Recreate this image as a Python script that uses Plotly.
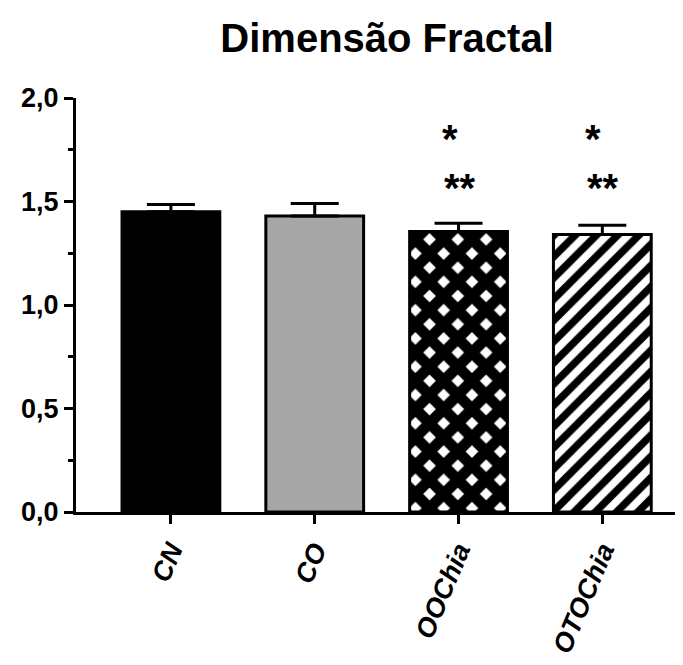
import plotly.graph_objects as go

categories = ["CN", "CO", "OOChia", "OTOChia"]
means = [1.45, 1.43, 1.355, 1.34]
errors = [0.035, 0.06, 0.04, 0.045]
sig_top = ["", "", "*", "*"]
sig_bottom = ["", "", "**", "**"]
sig_top_y = [1.80, 1.80, 1.80, 1.80]
sig_bottom_y = [1.565, 1.565, 1.565, 1.565]

fill_colors = ["black", "#a6a6a6", "white", "white"]
patterns = [
    dict(shape=""),
    dict(shape=""),
    dict(shape="x", fgcolor="black", bgcolor="white", size=20, solidity=0.8, fillmode="replace", fgopacity=1),
    dict(shape="/", fgcolor="black", bgcolor="white", size=15, solidity=0.5, fillmode="replace", fgopacity=1),
]

FONT = "Arial, Liberation Sans"

fig = go.Figure()
for i, c in enumerate(categories):
    fig.add_trace(go.Bar(
        x=[c], y=[means[i]],
        width=0.68,
        marker=dict(color=fill_colors[i], line=dict(color="black", width=3), pattern=patterns[i]),
        error_y=dict(type="data", array=[errors[i]], arrayminus=[0], symmetric=False,
                     color="black", thickness=3, width=24),
        showlegend=False,
    ))

for i, c in enumerate(categories):
    if sig_top[i]:
        fig.add_annotation(x=c, y=sig_top_y[i], text="<b>%s</b>" % sig_top[i], showarrow=False,
                           font=dict(family=FONT, size=40, color="black"),
                           xshift=-9)
    if sig_bottom[i]:
        fig.add_annotation(x=c, y=sig_bottom_y[i], text="<b>%s</b>" % sig_bottom[i], showarrow=False,
                           font=dict(family=FONT, size=40, color="black"),
                           xshift=1)

fig.update_layout(
    width=683, height=665,
    margin=dict(l=68, r=11, t=90, b=161),
    paper_bgcolor="white", plot_bgcolor="white",
    title=dict(text="<b>Dimensão Fractal</b>", x=0.555, xanchor="center", y=0.955, yanchor="middle",
               font=dict(family=FONT, size=40, color="black")),
    font=dict(family=FONT, color="black"),
)
fig.update_yaxes(
    range=[0, 2.0], tickvals=[0, 0.5, 1.0, 1.5, 2.0],
    ticktext=["<b>0,0</b>", "<b>0,5</b>", "<b>1,0</b>", "<b>1,5</b>", "<b>2,0</b>"],
    showline=True, linecolor="black", linewidth=3,
    ticks="outside", ticklen=9, tickwidth=3, tickcolor="black",
    minor=dict(tickvals=[0.25, 0.75, 1.25, 1.75], ticks="outside", ticklen=5, tickwidth=3, tickcolor="black"),
    showgrid=False, zeroline=False,
    tickfont=dict(size=27, family=FONT, color="black"),
)
fig.update_xaxes(
    range=[-0.66, 3.54],
    tickvals=categories,
    ticktext=["<b><i>%s</i></b>" % c for c in categories],
    tickangle=-67,
    showline=True, linecolor="black", linewidth=3,
    ticks="outside", ticklen=9, tickwidth=3, tickcolor="black",
    showgrid=False,
    tickfont=dict(size=27, family=FONT, color="black"),
)

fig.write_html("out.html")
